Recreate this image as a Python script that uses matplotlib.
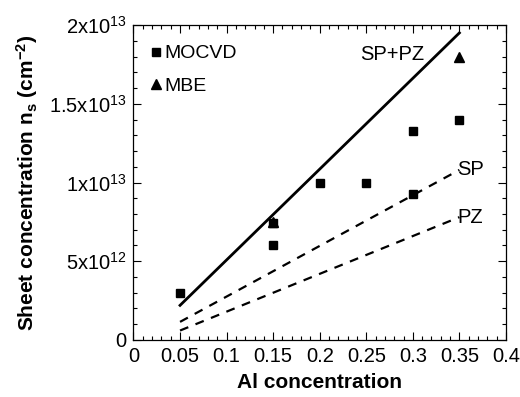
import matplotlib
matplotlib.use('Agg')
import matplotlib.pyplot as plt
from matplotlib.ticker import MultipleLocator, FixedLocator

plt.rcParams['font.family'] = ['Liberation Sans', 'DejaVu Sans']
plt.rcParams['mathtext.default'] = 'regular'

# MOCVD samples
mocvd_x = [0.05, 0.15, 0.15, 0.20, 0.25, 0.30, 0.30, 0.35]
mocvd_y = [3.0e12, 6.0e12, 7.4e12, 1.0e13, 1.0e13, 1.33e13, 9.3e12, 1.4e13]
# MBE samples
mbe_x = [0.15, 0.35]
mbe_y = [7.5e12, 1.8e13]
# calculated lines
calc_x = [0.05, 0.35]
sp_pz_y = [2.2e12, 1.95e13]
sp_y = [1.15e12, 1.08e13]
pz_y = [0.6e12, 7.8e12]

x_ticks = [0, 0.05, 0.1, 0.15, 0.2, 0.25, 0.3, 0.35, 0.4]
x_ticklabels = ['0', '0.05', '0.1', '0.15', '0.2', '0.25', '0.3', '0.35', '0.4']
y_ticks = [0, 5e12, 1e13, 1.5e13, 2e13]
y_ticklabels = ['0', '5x10$^{12}$', '1x10$^{13}$', '1.5x10$^{13}$', '2x10$^{13}$']

fig = plt.figure(figsize=(5.2, 3.97), dpi=100)
ax = fig.add_axes([0.2567, 0.1436, 0.7163, 0.7934])

ax.plot(calc_x, sp_pz_y, '-', color='black', lw=2)
ax.plot(calc_x, sp_y, '--', color='black', lw=1.6, dashes=(4, 3.5))
ax.plot(calc_x, pz_y, '--', color='black', lw=1.6, dashes=(4, 3.5))

ax.plot(mocvd_x, mocvd_y, 's', color='black', ms=6, ls='none', label='MOCVD')
ax.plot(mbe_x, mbe_y, '^', color='black', ms=7, ls='none', label='MBE')

ax.text(0.243, 1.81e13, 'SP+PZ', fontsize=14.5, va='center', ha='left')
ax.text(0.348, 1.08e13, 'SP', fontsize=14.5, va='center', ha='left')
ax.text(0.348, 7.8e12, 'PZ', fontsize=14.5, va='center', ha='left')

ax.legend(loc='upper left', frameon=False, fontsize=14, handlelength=0.6,
          handletextpad=0.15, labelspacing=0.75, borderaxespad=0.0,
          borderpad=0.0, bbox_to_anchor=(0.045, 0.937))

ax.set_xlim(0, 0.4)
ax.set_ylim(0, 2e13)
ax.xaxis.set_major_locator(FixedLocator(x_ticks))
ax.set_xticklabels(x_ticklabels)
ax.xaxis.set_minor_locator(MultipleLocator(0.01))
ax.yaxis.set_major_locator(FixedLocator(y_ticks))
ax.set_yticklabels(y_ticklabels)
ax.yaxis.set_minor_locator(MultipleLocator(1e12))

ax.tick_params(which='both', direction='in', top=True, right=True, width=0.8)
ax.tick_params(which='major', length=6, labelsize=14.5, pad=5)
ax.tick_params(which='minor', length=3)
for s in ax.spines.values():
    s.set_linewidth(0.9)

ax.set_xlabel('Al concentration', fontsize=15, fontweight='bold', labelpad=5)
ax.set_ylabel('Sheet concentration n$_s$ (cm$^{-2}$)', fontsize=15,
              fontweight='bold')
ax.yaxis.set_label_coords(-0.25, 0.5)

fig.savefig('out.png', dpi=100)
